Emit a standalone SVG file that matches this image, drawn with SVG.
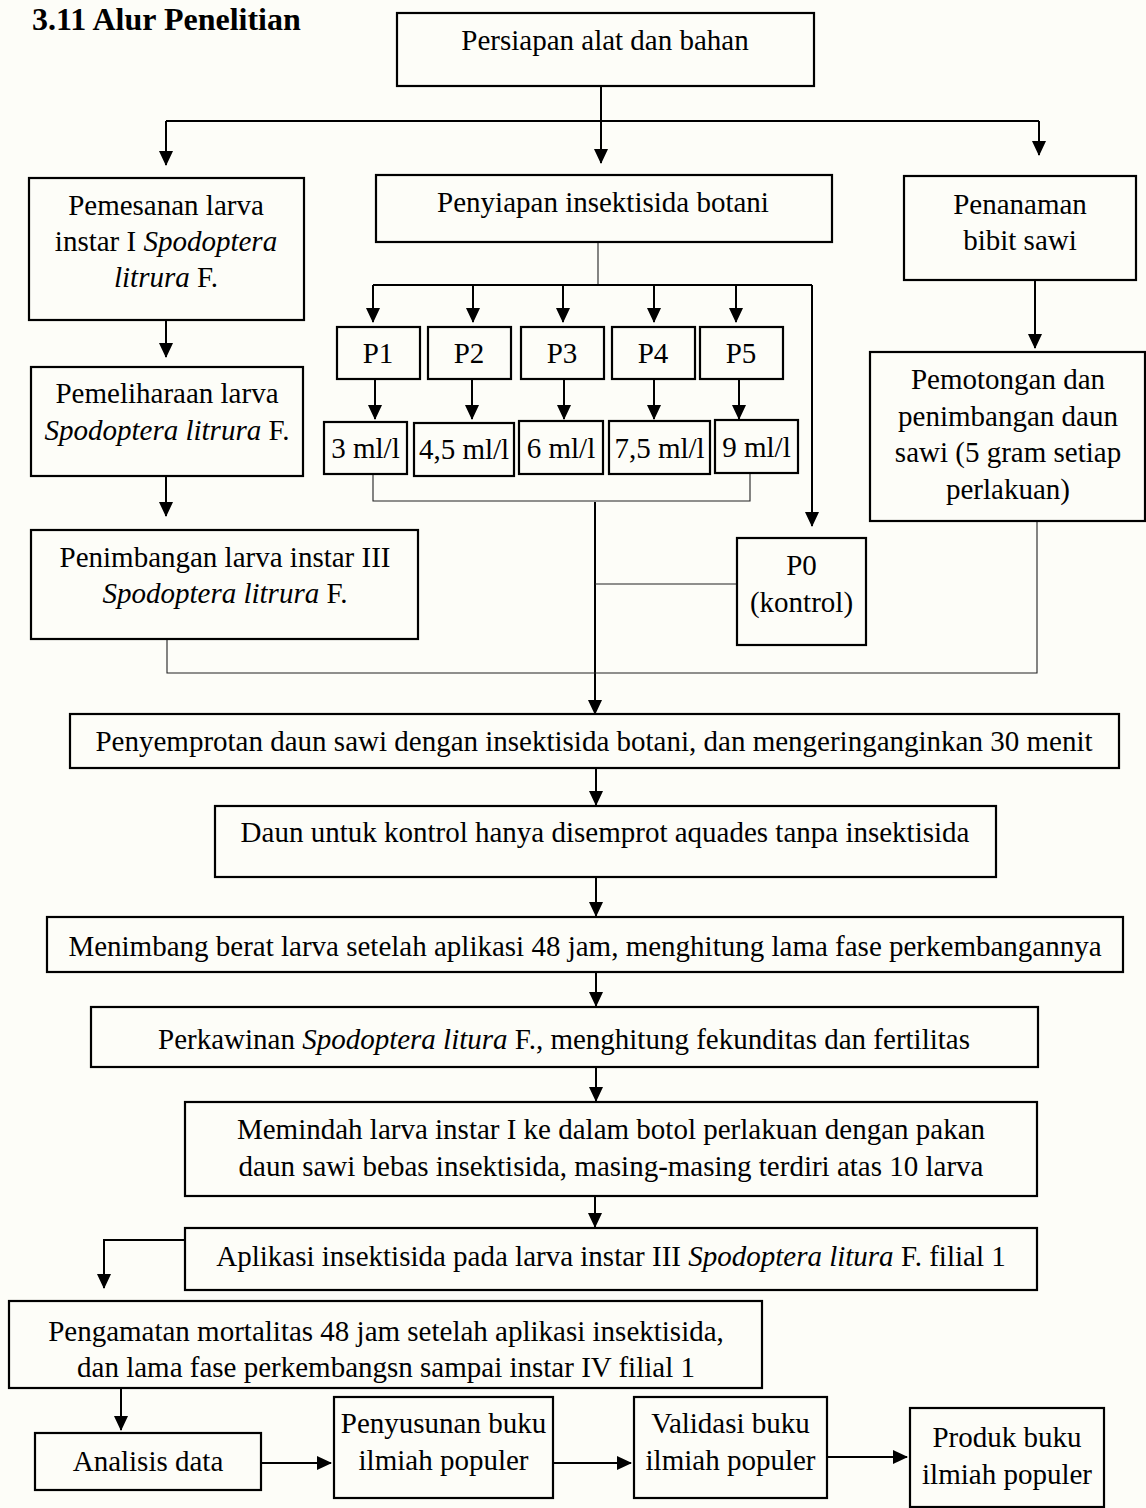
<svg xmlns="http://www.w3.org/2000/svg" width="1146" height="1508" viewBox="0 0 1146 1508">
<style>
.bx{fill:none;stroke:#000;stroke-width:2.2}
.t{font-family:"Liberation Serif","Times New Roman",serif;font-size:29px;fill:#000;text-anchor:middle}
.i{font-style:italic}
.c{fill:none;stroke:#000;stroke-width:2}
.thin{fill:none;stroke:#222;stroke-width:1.1}
.title{font-family:"Liberation Serif","Times New Roman",serif;font-size:32px;font-weight:bold;fill:#000}
</style>
<defs>
<marker id="ah" viewBox="0 0 15 14" refX="14" refY="7" markerWidth="15" markerHeight="14" markerUnits="userSpaceOnUse" orient="auto">
<path d="M0,0 L15,7 L0,14 z" fill="#000"/>
</marker>
</defs>
<rect x="0" y="0" width="1146" height="1508" fill="#fdfdf8"/>
<text class="title" x="32" y="30">3.11 Alur Penelitian</text>

<g id="connectors">
<path class="c" d="M601,86 V163" marker-end="url(#ah)"/>
<path class="c" d="M166,121 H1039"/>
<path class="c" d="M166,121 V165" marker-end="url(#ah)"/>
<path class="c" d="M1039,121 V155" marker-end="url(#ah)"/>
<path class="c" d="M166,320 V357" marker-end="url(#ah)"/>
<path class="c" d="M166,476 V516" marker-end="url(#ah)"/>
<path class="c" d="M1035,280 V348" marker-end="url(#ah)"/>
<path class="thin" d="M598,242 V285"/>
<path class="c" d="M373,285 H812"/>
<path class="c" d="M373,285 V322" marker-end="url(#ah)"/>
<path class="c" d="M473,285 V322" marker-end="url(#ah)"/>
<path class="c" d="M563,285 V322" marker-end="url(#ah)"/>
<path class="c" d="M654,285 V322" marker-end="url(#ah)"/>
<path class="c" d="M736,285 V322" marker-end="url(#ah)"/>
<path class="c" d="M812,285 V526" marker-end="url(#ah)"/>
<path class="c" d="M375,380 V419" marker-end="url(#ah)"/>
<path class="c" d="M472,380 V419" marker-end="url(#ah)"/>
<path class="c" d="M564,380 V419" marker-end="url(#ah)"/>
<path class="c" d="M654,380 V419" marker-end="url(#ah)"/>
<path class="c" d="M739,380 V419" marker-end="url(#ah)"/>
<path class="thin" d="M373,474 V501 H750 V474"/>
<path class="c" d="M595,502 V714" marker-end="url(#ah)"/>
<path class="thin" d="M595,584 H737"/>
<path class="thin" d="M167,639 V673 H1037 V521"/>
<path class="c" d="M596,768 V805" marker-end="url(#ah)"/>
<path class="c" d="M596,877 V916" marker-end="url(#ah)"/>
<path class="c" d="M596,972 V1006" marker-end="url(#ah)"/>
<path class="c" d="M596,1067 V1101" marker-end="url(#ah)"/>
<path class="c" d="M595,1196 V1227" marker-end="url(#ah)"/>
<path class="c" d="M185,1240 H104 V1288" marker-end="url(#ah)"/>
<path class="c" d="M121,1388 V1430" marker-end="url(#ah)"/>
<path class="c" d="M261,1463 H331" marker-end="url(#ah)"/>
<path class="c" d="M553,1463 H631" marker-end="url(#ah)"/>
<path class="c" d="M827,1457 H907" marker-end="url(#ah)"/>
</g>

<g id="n-persiapan"><rect class="bx" x="397" y="13" width="417" height="73"/><text class="t" x="605" y="50">Persiapan alat dan bahan</text></g>
<g id="n-pemesanan"><rect class="bx" x="29" y="178" width="275" height="142"/>
<text class="t" x="166" y="215">Pemesanan larva</text>
<text class="t" x="166" y="251">instar I <tspan class="i">Spodoptera</tspan></text>
<text class="t" x="166" y="287"><tspan class="i">litrura</tspan> F.</text></g>
<g id="n-penyiapan"><rect class="bx" x="376" y="175" width="456" height="67"/><text class="t" x="603" y="212">Penyiapan insektisida botani</text></g>
<g id="n-penanaman"><rect class="bx" x="904" y="176" width="232" height="104"/>
<text class="t" x="1020" y="214">Penanaman</text><text class="t" x="1020" y="250">bibit sawi</text></g>
<g id="n-pemeliharaan"><rect class="bx" x="31" y="367" width="272" height="109"/>
<text class="t" x="167" y="403">Pemeliharaan larva</text>
<text class="t" x="167" y="440"><tspan class="i">Spodoptera litrura</tspan> F.</text></g>
<g id="n-penimbangan"><rect class="bx" x="31" y="530" width="387" height="109"/>
<text class="t" x="225" y="567">Penimbangan larva instar III</text>
<text class="t" x="225" y="603"><tspan class="i">Spodoptera litrura</tspan> F.</text></g>
<g id="n-pemotongan"><rect class="bx" x="870" y="352" width="275" height="169"/>
<text class="t" x="1008" y="389">Pemotongan dan</text>
<text class="t" x="1008" y="426">penimbangan daun</text>
<text class="t" x="1008" y="462">sawi (5 gram setiap</text>
<text class="t" x="1008" y="499">perlakuan)</text></g>
<g id="n-p1"><rect class="bx" x="337" y="327" width="83" height="52"/><text class="t" x="378" y="363">P1</text></g>
<g id="n-p2"><rect class="bx" x="428" y="327" width="83" height="52"/><text class="t" x="469" y="363">P2</text></g>
<g id="n-p3"><rect class="bx" x="521" y="327" width="83" height="52"/><text class="t" x="562" y="363">P3</text></g>
<g id="n-p4"><rect class="bx" x="612" y="327" width="83" height="52"/><text class="t" x="653" y="363">P4</text></g>
<g id="n-p5"><rect class="bx" x="700" y="327" width="83" height="52"/><text class="t" x="741" y="363">P5</text></g>
<g id="n-m1"><rect class="bx" x="324" y="422" width="83" height="52"/><text class="t" x="365.5" y="458">3 ml/l</text></g>
<g id="n-m2"><rect class="bx" x="414" y="423" width="100" height="53"/><text class="t" x="464" y="459">4,5 ml/l</text></g>
<g id="n-m3"><rect class="bx" x="519" y="421" width="84" height="53"/><text class="t" x="561" y="458">6 ml/l</text></g>
<g id="n-m4"><rect class="bx" x="609" y="421" width="101" height="53"/><text class="t" x="659.5" y="458">7,5 ml/l</text></g>
<g id="n-m5"><rect class="bx" x="715" y="420" width="83" height="53"/><text class="t" x="756.5" y="457">9 ml/l</text></g>
<g id="n-p0"><rect class="bx" x="737" y="538" width="129" height="107"/>
<text class="t" x="801.5" y="575">P0</text><text class="t" x="801.5" y="612">(kontrol)</text></g>
<g id="n-penyemprotan"><rect class="bx" x="70" y="714" width="1049" height="54"/><text class="t" x="594" y="751">Penyemprotan daun sawi dengan insektisida botani, dan mengeringanginkan 30 menit</text></g>
<g id="n-daun"><rect class="bx" x="215" y="806" width="781" height="71"/><text class="t" x="605" y="842">Daun untuk kontrol hanya disemprot aquades tanpa insektisida</text></g>
<g id="n-menimbang"><rect class="bx" x="47" y="917" width="1076" height="55"/><text class="t" x="585" y="956">Menimbang berat larva setelah aplikasi 48 jam, menghitung lama fase perkembangannya</text></g>
<g id="n-perkawinan"><rect class="bx" x="91" y="1007" width="947" height="60"/><text class="t" x="564" y="1049">Perkawinan <tspan class="i">Spodoptera litura</tspan> F., menghitung fekunditas dan fertilitas</text></g>
<g id="n-memindah"><rect class="bx" x="185" y="1102" width="852" height="94"/>
<text class="t" x="611" y="1139">Memindah larva instar I ke dalam botol perlakuan dengan pakan</text>
<text class="t" x="611" y="1176">daun sawi bebas insektisida, masing-masing terdiri atas 10 larva</text></g>
<g id="n-aplikasi"><rect class="bx" x="185" y="1228" width="852" height="62"/><text class="t" x="611" y="1266">Aplikasi insektisida pada larva instar III <tspan class="i">Spodoptera litura</tspan> F. filial 1</text></g>
<g id="n-pengamatan"><rect class="bx" x="9" y="1301" width="753" height="87"/>
<text class="t" x="386" y="1341">Pengamatan mortalitas 48 jam setelah aplikasi insektisida,</text>
<text class="t" x="386" y="1377">dan lama fase perkembangsn sampai instar IV filial 1</text></g>
<g id="n-analisis"><rect class="bx" x="35" y="1433" width="226" height="57"/><text class="t" x="148" y="1471">Analisis data</text></g>
<g id="n-penyusunan"><rect class="bx" x="334" y="1397" width="219" height="101"/>
<text class="t" x="443.5" y="1433">Penyusunan buku</text><text class="t" x="443.5" y="1470">ilmiah populer</text></g>
<g id="n-validasi"><rect class="bx" x="634" y="1397" width="193" height="101"/>
<text class="t" x="730.5" y="1433">Validasi buku</text><text class="t" x="730.5" y="1470">ilmiah populer</text></g>
<g id="n-produk"><rect class="bx" x="910" y="1408" width="194" height="99"/>
<text class="t" x="1007" y="1447">Produk buku</text><text class="t" x="1007" y="1484">ilmiah populer</text></g>
</svg>
